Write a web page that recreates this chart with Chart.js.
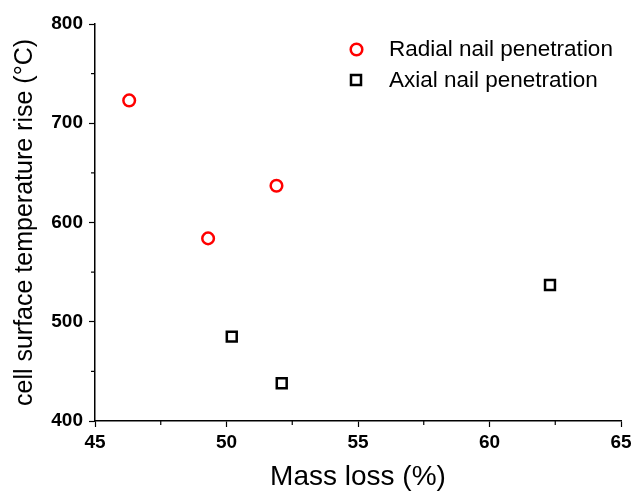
<!DOCTYPE html>
<html>
<head>
<meta charset="utf-8">
<script src="https://cdn.jsdelivr.net/npm/chart.js@4/dist/chart.umd.min.js"></script>
<style>
  html, body { margin: 0; padding: 0; background: #fff; }
  #wrap { width: 632px; height: 496px; }
</style>
</head>
<body>
<div id="wrap"><canvas id="myChart"></canvas></div>
<script>
const radialMass = [46.3, 49.3, 51.9];
const radialTemp = [723, 584, 637];
const axialMass = [50.2, 52.1, 62.3];
const axialTemp = [485, 438, 537];
const seriesNames = ['Radial nail penetration', 'Axial nail penetration'];
const xTicks = [45, 50, 55, 60, 65];
const yTicks = [400, 500, 600, 700, 800];

const toPoints = (xs, ys) => xs.map((x, i) => ({ x: x, y: ys[i] }));

// minor ticks half way between the labelled ones, plus the legend inside the plot
const extras = {
    id: 'extras',
    afterDraw(chart) {
        const c = chart.ctx;
        const xs = chart.scales.x;
        const ys = chart.scales.y;
        const area = chart.chartArea;
        c.save();
        c.strokeStyle = '#000';
        c.lineWidth = 1.2;
        for (let i = 0; i < xTicks.length - 1; i++) {
            const px = xs.getPixelForValue((xTicks[i] + xTicks[i + 1]) / 2);
            c.beginPath();
            c.moveTo(px, area.bottom);
            c.lineTo(px, area.bottom + 4);
            c.stroke();
        }
        for (let i = 0; i < yTicks.length - 1; i++) {
            const py = ys.getPixelForValue((yTicks[i] + yTicks[i + 1]) / 2);
            c.beginPath();
            c.moveTo(area.left, py);
            c.lineTo(area.left - 4, py);
            c.stroke();
        }

        // legend
        c.font = '22.5px "Liberation Sans", Arial, sans-serif';
        c.textBaseline = 'middle';
        c.fillStyle = '#000';
        c.lineWidth = 2.5;
        c.strokeStyle = 'red';
        c.beginPath();
        c.arc(356.5, 49.5, 5.8, 0, Math.PI * 2);
        c.stroke();
        c.fillText(seriesNames[0], 389, 50);
        c.strokeStyle = '#000';
        c.strokeRect(351, 75, 10, 10);
        c.fillText(seriesNames[1], 389, 81);
        c.restore();
    }
};

const tickFont = { family: '"Liberation Sans", Arial, sans-serif', size: 19, weight: 'bold' };

const myChart = new Chart(document.getElementById('myChart'), { // eslint-disable-line
    type: 'scatter',
    data: {
        datasets: [
            {
                label: seriesNames[0],
                data: toPoints(radialMass, radialTemp),
                pointStyle: 'circle',
                pointRadius: 5.8,
                pointHoverRadius: 5.8,
                borderColor: 'red',
                backgroundColor: 'rgba(0,0,0,0)',
                borderWidth: 2.5
            },
            {
                label: seriesNames[1],
                data: toPoints(axialMass, axialTemp),
                pointStyle: 'rect',
                pointRadius: 7,
                pointHoverRadius: 7,
                borderColor: '#000',
                backgroundColor: 'rgba(0,0,0,0)',
                borderWidth: 2.5
            }
        ]
    },
    options: {
        responsive: true,
        maintainAspectRatio: false,
        animation: false,
        layout: { padding: { top: 24, right: 11, left: 0, bottom: 0 } },
        plugins: {
            legend: { display: false },
            tooltip: { enabled: false }
        },
        scales: {
            x: {
                type: 'linear',
                min: 45,
                max: 65,
                afterFit: (s) => { s.height = 75; s.paddingRight = 0; },
                afterBuildTicks: (s) => { s.ticks = xTicks.map(v => ({ value: v })); },
                border: { display: true, color: '#000', width: 1.5 },
                grid: { display: true, drawOnChartArea: false, drawTicks: true, tickLength: 6, tickColor: '#000', tickWidth: 1.2 },
                ticks: { color: '#000', font: tickFont, padding: 4, maxRotation: 0 },
                title: {
                    display: true,
                    text: 'Mass loss (%)',
                    color: '#000',
                    font: { family: '"Liberation Sans", Arial, sans-serif', size: 28 },
                    padding: { top: 0, bottom: 2 }
                }
            },
            y: {
                type: 'linear',
                min: 400,
                max: 800,
                afterFit: (s) => { s.width = 95; },
                afterBuildTicks: (s) => { s.ticks = yTicks.map(v => ({ value: v })); },
                border: { display: true, color: '#000', width: 1.5 },
                grid: { display: true, drawOnChartArea: false, drawTicks: true, tickLength: 6, tickColor: '#000', tickWidth: 1.2 },
                ticks: { color: '#000', font: tickFont, padding: 6 },
                title: {
                    display: true,
                    text: 'cell surface temperature rise (°C)',
                    color: '#000',
                    font: { family: '"Liberation Sans", Arial, sans-serif', size: 25 },
                    padding: { top: 10, bottom: 0 }
                }
            }
        }
    },
    plugins: [extras]
});
</script>
</body>
</html>
